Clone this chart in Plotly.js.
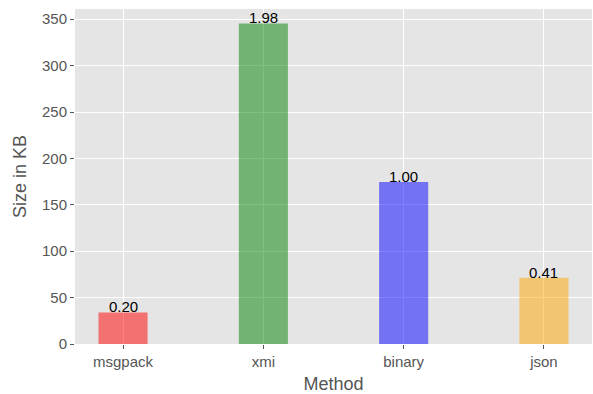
<!DOCTYPE html>
<html><head><meta charset="utf-8">
<script src="https://cdn.plot.ly/plotly-3.0.1.min.js"></script>
<style>body{margin:0}#c{width:593px;height:394px}</style>
</head><body><div id="c"></div>
<script>
var methods = ["msgpack", "xmi", "binary", "json"];
var sizesKB = [34, 345.5, 174.5, 71.5];
var ratioLabels = ["0.20", "1.98", "1.00", "0.41"];
var barColors = ["rgba(255,0,0,0.5)", "rgba(0,128,0,0.5)", "rgba(0,0,255,0.5)", "rgba(255,165,0,0.5)"];
var yTicks = [0, 50, 100, 150, 200, 250, 300, 350];

var xs = methods.map(function(_, i){ return i; });
var trace = {
  type: "bar", x: xs, y: sizesKB, width: 0.35,
  marker: {color: barColors, line: {width: 0}},
  hoverinfo: "none"
};
var annotations = xs.map(function(x, i){
  return {x: x, y: sizesKB[i], text: ratioLabels[i], showarrow: false,
    xanchor: "center", yanchor: "bottom", yshift: -5,
    font: {family: "Liberation Sans, Arial, sans-serif", size: 15, color: "#000"}};
});
var layout = {
  width: 593, height: 394,
  margin: {l: 75, r: 1, t: 9, b: 50},
  paper_bgcolor: "#fff", plot_bgcolor: "#E5E5E5",
  font: {family: "Liberation Sans, Arial, sans-serif", color: "#555", size: 15},
  showlegend: false,
  xaxis: {
    range: [-0.3425, 3.3425], tickvals: xs, ticktext: methods,
    showgrid: true, gridcolor: "#fff", gridwidth: 1, zeroline: false,
    ticks: "outside", ticklen: 4, tickcolor: "#555", tickwidth: 1,
    showline: false, fixedrange: true,
    title: {text: "Method", font: {size: 18, color: "#555"}, standoff: 8}
  },
  yaxis: {
    range: [0, 361], tickvals: yTicks,
    showgrid: true, gridcolor: "#fff", gridwidth: 1, zeroline: false,
    ticks: "outside", ticklen: 4, tickcolor: "#555", tickwidth: 1,
    showline: false, fixedrange: true,
    title: {text: "Size in KB", font: {size: 18, color: "#555"}, standoff: 10}
  },
  annotations: annotations
};
Plotly.newPlot("c", [trace], layout, {staticPlot: true});
</script></body></html>
